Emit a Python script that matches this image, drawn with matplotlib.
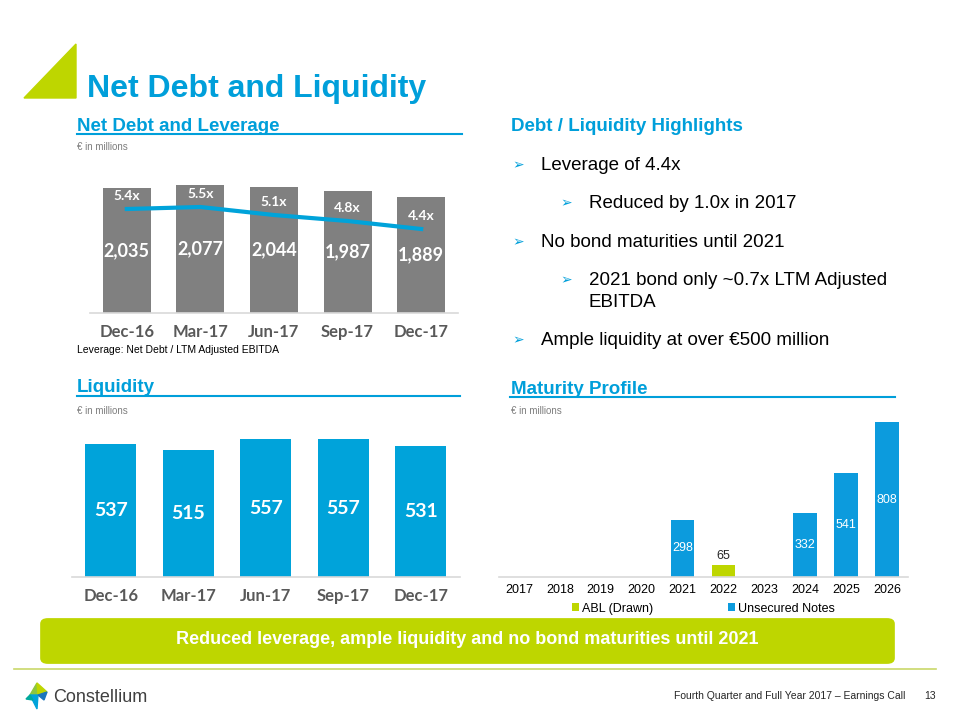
import matplotlib
matplotlib.use("Agg")
import matplotlib.pyplot as plt
from matplotlib.patches import Polygon, FancyBboxPatch
from matplotlib.lines import Line2D
import numpy as np

# data
quarters = ["Dec-16", "Mar-17", "Jun-17", "Sep-17", "Dec-17"]
net_debt = [2035, 2077, 2044, 1987, 1889]
leverage = [5.4, 5.5, 5.1, 4.8, 4.4]
liquidity = [537, 515, 557, 557, 531]
years = ["2017", "2018", "2019", "2020", "2021", "2022", "2023", "2024", "2025", "2026"]
abl_drawn = [0, 0, 0, 0, 0, 65, 0, 0, 0, 0]
unsecured = [0, 0, 0, 0, 298, 0, 0, 332, 541, 808]

BLUE = "#009FDA"
BAR_BLUE = "#00A3DA"
MAT_BLUE = "#0C9BDD"
GREEN = "#BED600"
GRAY_BAR = "#808080"
LABEL_GRAY = "#595959"
SANS = ["Liberation Sans", "DejaVu Sans"]
CAL = ["Lato", "DejaVu Sans"]
NARROW = ["Liberation Sans Narrow", "Liberation Sans", "DejaVu Sans"]

W, H = 960, 720
fig = plt.figure(figsize=(9.6, 7.2), dpi=100)


def fx(x):
    return x / W


def fy(y):
    return 1 - y / H


def axes_px(left, top, right, bottom):
    return fig.add_axes([fx(left), fy(bottom), (right - left) / W, (bottom - top) / H])


def txt(x, y, s, **kw):
    kw.setdefault("family", SANS)
    kw.setdefault("va", "baseline")
    fig.text(fx(x), fy(y), s, **kw)


def hline(x0, x1, y, color, lw):
    fig.add_artist(Line2D([fx(x0), fx(x1)], [fy(y), fy(y)], color=color, lw=lw,
                          transform=fig.transFigure))


def clean(ax):
    for s in ["top", "left", "right"]:
        ax.spines[s].set_visible(False)
    ax.spines["bottom"].set_color("#D9D9D9")
    ax.spines["bottom"].set_linewidth(1.2)
    ax.set_yticks([])
    ax.tick_params(axis="x", length=0)
    ax.patch.set_alpha(0)


# title
fig.add_artist(Polygon([[fx(24), fy(98)], [fx(76), fy(44)], [fx(76), fy(98)]],
                       closed=True, color=GREEN, transform=fig.transFigure))
txt(87, 97, "Net Debt and Liquidity", fontsize=23, fontweight="bold", color=BLUE)

# section headers
txt(77, 131, "Net Debt and Leverage", fontsize=13.5, fontweight="bold", color=BLUE)
hline(77, 462, 134, BLUE, 1.5)
txt(77, 150, "€ in millions", fontsize=7, color="#7F7F7F")

txt(77, 392, "Liquidity", fontsize=13.5, fontweight="bold", color=BLUE)
hline(77, 460, 396, BLUE, 1.5)
txt(77, 414, "€ in millions", fontsize=7, color="#7F7F7F")

txt(511, 394, "Maturity Profile", fontsize=13.5, fontweight="bold", color=BLUE)
hline(510, 895, 397, BLUE, 1.5)
txt(511, 414, "€ in millions", fontsize=7, color="#7F7F7F")

txt(511, 131, "Debt / Liquidity Highlights", fontsize=13.5, fontweight="bold", color=BLUE)

# highlights bullets
bullets = [
    (0, 170, "Leverage of 4.4x"),
    (1, 208, "Reduced by 1.0x in 2017"),
    (0, 247, "No bond maturities until 2021"),
    (1, 285, "2021 bond only ~0.7x LTM Adjusted"),
    (None, 307, "EBITDA"),
    (0, 345, "Ample liquidity at over €500 million"),
]
for level, y, s in bullets:
    if level is None:
        txt(589, y, s, fontsize=13.5, color="black")
        continue
    ax0 = 512 if level == 0 else 560
    x0 = 541 if level == 0 else 589
    txt(ax0, y - 1, "➢", fontsize=10, color=BLUE, family=["DejaVu Sans"])
    txt(x0, y, s, fontsize=13.5, color="black")

# net debt and leverage chart
ax1 = axes_px(90, 180, 458, 313)
clean(ax1)
x = np.arange(len(quarters))
ax1.bar(x, net_debt, width=0.65, color=GRAY_BAR)
ax1.set_xlim(-0.5, 4.5)
ax1.set_ylim(0, 2077 * 133 / 128)
ax1.set_xticks(x)
ax1.set_xticklabels(quarters, family=CAL, fontweight="bold", fontsize=12, color=LABEL_GRAY)
ax1.tick_params(axis="x", pad=8)
for xi, v in zip(x, net_debt):
    ax1.text(xi, v / 2, f"{v:,}", ha="center", va="center", color="white",
             fontsize=13, fontweight="bold", family=CAL)
ax1b = ax1.twinx()
ax1b.set_ylim(0.2, 0.2 + 133 / 20)
ax1b.plot(x, leverage, color=BAR_BLUE, lw=3)
ax1b.axis("off")
for xi, v in zip(x, leverage):
    ax1b.annotate(f"{v:.1f}x", (xi, v), xytext=(0, 5), textcoords="offset points",
                  ha="center", va="bottom", color="white", fontsize=10,
                  fontweight="bold", family=CAL)
txt(77, 353, "Leverage: Net Debt / LTM Adjusted EBITDA", fontsize=7.5, color="black")

# liquidity chart
ax2 = axes_px(72, 430, 459.5, 577)
clean(ax2)
x = np.arange(len(quarters))
ax2.bar(x, liquidity, width=0.66, color=BAR_BLUE)
ax2.set_xlim(-0.5, 4.5)
ax2.set_ylim(0, 557 * 147 / 137.7)
ax2.set_xticks(x)
ax2.set_xticklabels(quarters, family=CAL, fontweight="bold", fontsize=12, color=LABEL_GRAY)
ax2.tick_params(axis="x", pad=8)
for xi, v in zip(x, liquidity):
    ax2.text(xi, v / 2, str(v), ha="center", va="center", color="white",
             fontsize=14, fontweight="bold", family=CAL)

# maturity profile chart
ax3 = axes_px(498.5, 415, 907.5, 577)
clean(ax3)
x = np.arange(len(years))
ax3.bar(x, abl_drawn, width=0.58, color=GREEN, label="ABL (Drawn)")
ax3.bar(x, unsecured, width=0.58, bottom=abl_drawn, color=MAT_BLUE, label="Unsecured Notes")
ax3.set_xlim(-0.5, 9.5)
ax3.set_ylim(0, 808 * 162 / 155)
ax3.set_xticks(x)
ax3.set_xticklabels(years, family=SANS, fontsize=9, color="black")
ax3.tick_params(axis="x", pad=5)
for xi, v in zip(x, unsecured):
    if v:
        ax3.text(xi, v / 2, str(v), ha="center", va="center", color="white",
                 fontsize=9, family=SANS)
for xi, v in zip(x, abl_drawn):
    if v:
        ax3.text(xi, v + 15, str(v), ha="center", va="bottom", color="#262626",
                 fontsize=9, family=SANS)
ax3.legend(loc="upper center", bbox_to_anchor=(0.5, -0.09), ncol=2, frameon=False,
           handlelength=0.6, handleheight=0.6, handletextpad=0.2, columnspacing=6,
           prop={"family": SANS, "size": 9})

# banner
fig.add_artist(FancyBboxPatch((fx(44), fy(661)), fx(847), 40 / H,
                              boxstyle="round,pad=0.004,rounding_size=0.008",
                              transform=fig.transFigure, facecolor=GREEN, edgecolor="none"))
txt(467, 640, "Reduced leverage, ample liquidity and no bond maturities until 2021",
    fontsize=13, fontweight="bold", color="white", ha="center", va="center", family=NARROW)
hline(14, 936, 669, "#C9D86A", 1.2)

# footer logo
for pts, c in [
    ([(37, 683), (30, 695), (38, 695)], "#8DC63F"),
    ([(37, 683), (38, 695), (47, 692)], GREEN),
    ([(30, 695), (38, 695), (37, 709)], "#00A3DA"),
    ([(38, 695), (47, 692), (44, 700)], "#1B75BB"),
    ([(26, 699), (30, 695), (33, 700)], "#00A99D"),
]:
    fig.add_artist(Polygon([[fx(a), fy(b)] for a, b in pts], closed=True, color=c,
                           transform=fig.transFigure))
txt(53, 702, "Constellium", fontsize=13, color="#404040", family=NARROW)
txt(905, 699, "Fourth Quarter and Full Year 2017 – Earnings Call", fontsize=7.5,
    color="#262626", ha="right", family=NARROW)
txt(936, 699, "13", fontsize=7.5, color="#262626", ha="right", family=NARROW)

fig.savefig("out.png", dpi=100)
